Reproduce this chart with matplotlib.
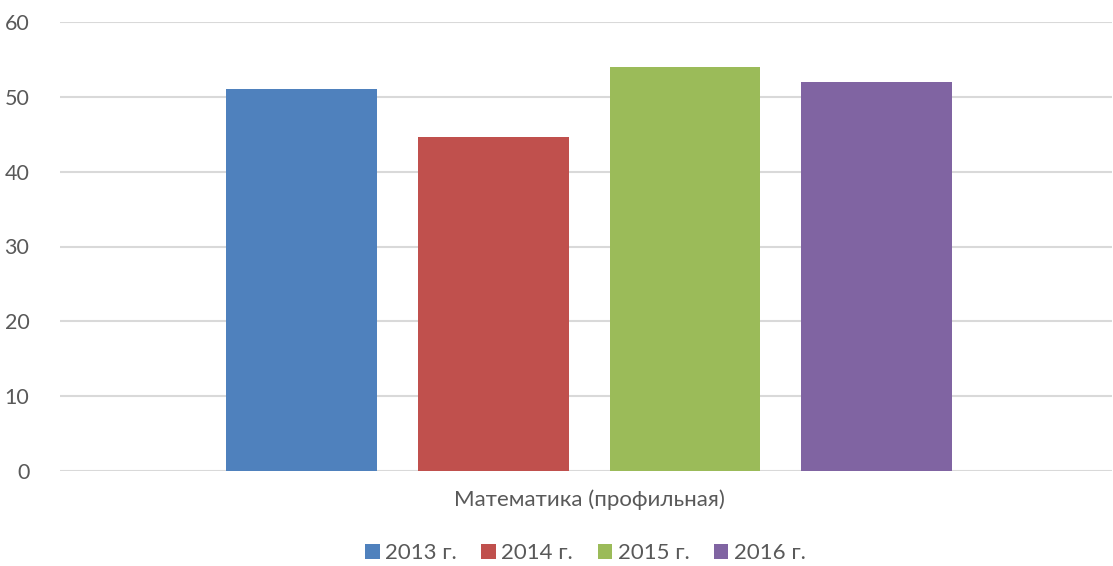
import matplotlib
matplotlib.use('Agg')
import matplotlib.pyplot as plt
import numpy as np

years = ['2013 г.', '2014 г.', '2015 г.', '2016 г.']
scores = [51.0, 44.6, 54.0, 52.0]
category = 'Математика (профильная)'
colors = ['#4F81BD', '#C0504D', '#9BBB59', '#8064A2']

plt.rcParams['font.family'] = ['Lato', 'DejaVu Sans']

fig = plt.figure(figsize=(11.13, 5.66), dpi=100)
ax = fig.add_axes([60 / 1113, 1 - 471 / 566, 1052 / 1113, 449 / 566])

x = np.arange(len(years))
for i in range(len(years)):
    ax.bar(x[i], scores[i], width=0.786, color=colors[i], label=years[i], zorder=2)

ax.set_ylim(0, 60)
ax.set_yticks(range(0, 61, 10))
ax.set_xlim(-1.26, 4.228)
ax.set_xticks([np.mean(x)])
ax.set_xticklabels([category], fontsize=16)
ax.grid(axis='y', color='#D9D9D9', lw=1.5, zorder=0)
for s in ax.spines.values():
    s.set_visible(False)
ax.tick_params(axis='both', length=0, colors='#595959')
ax.tick_params(axis='y', pad=22, labelsize=15.5)
ax.tick_params(axis='x', pad=13)

leg = fig.legend(loc='center', bbox_to_anchor=(0.526, 1 - 553 / 566), ncol=4,
                 frameon=False, fontsize=16, handlelength=0.65, handleheight=0.65,
                 handletextpad=0.25, columnspacing=1.1)
for t in leg.get_texts():
    t.set_color('#595959')

plt.savefig('out.png', dpi=100)
